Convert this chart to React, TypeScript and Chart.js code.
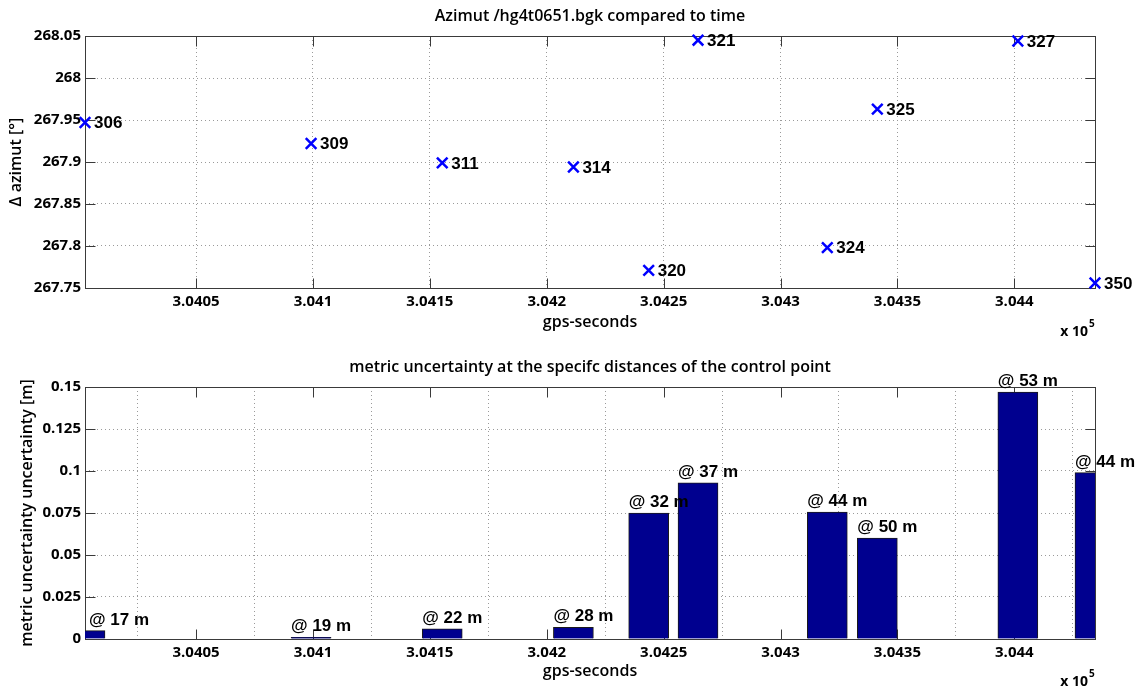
import React, { useEffect, useRef } from 'react';
import { Chart, registerables } from 'chart.js';

Chart.register(...registerables);

// Control point identifiers and their observation epochs (GPS seconds)
const pointIds = ['306', '309', '311', '314', '320', '321', '324', '325', '327', '350'];
const gpsSeconds = [304002.5, 304099.2, 304155.3, 304211.4, 304243.6, 304264.7, 304320.0, 304341.4, 304401.5, 304434.5];

// Azimuth per control point [deg]
const azimuth = [267.947, 267.922, 267.899, 267.894, 267.771, 268.045, 267.798, 267.963, 268.044, 267.756];

// Metric uncertainty [m] and distance to the control point [m]
const uncertainty = [0.005, 0.001, 0.006, 0.007, 0.075, 0.093, 0.0756, 0.06, 0.147, 0.099];
const distances = [17, 19, 22, 28, 32, 37, 44, 50, 53, 44];

// Axis ticks
const xTicks = [304050, 304100, 304150, 304200, 304250, 304300, 304350, 304400];
const xTickLabels = ['3.0405', '3.041', '3.0415', '3.042', '3.0425', '3.043', '3.0435', '3.044'];
const azTicks = [267.75, 267.8, 267.85, 267.9, 267.95, 268, 268.05];
const azTickLabels = ['267.75', '267.8', '267.85', '267.9', '267.95', '268', '268.05'];
const uncTicks = [0, 0.025, 0.05, 0.075, 0.1, 0.125, 0.15];
const uncTickLabels = ['0', '0.025', '0.05', '0.075', '0.1', '0.125', '0.15'];

const W = 1141;
const H = 344;
const TICK_FONT = { family: '"Open Sans", sans-serif', size: 15, weight: 'bold' as const };
const LABEL_FONT = '600 16px "Open Sans", sans-serif';
const ANNOT_FONT = 'bold 17px "Liberation Sans", Arial, sans-serif';
const FRAME = '#3a3a3a';

type DecorCfg = {
  title: string;
  titleY: number;
  yTitle: string;
  yTitleX: number;
  xTitleY: number;
  expY: number;
};

function makeDecor(cfg: DecorCfg) {
  return {
    id: 'decor',
    beforeDatasetsDraw(chart: any) {
      const { ctx, chartArea: a, scales } = chart;
      const L = Math.round(a.left) + 0.5;
      const R = Math.round(a.right) + 0.5;
      const T = Math.round(a.top) + 0.5;
      const B = Math.round(a.bottom) + 0.5;
      ctx.save();
      ctx.strokeStyle = FRAME;
      ctx.lineWidth = 1;
      ctx.beginPath();
      // inward tick marks on all four sides
      scales.x.ticks.forEach((t: any) => {
        const px = Math.round(scales.x.getPixelForValue(t.value)) + 0.5;
        ctx.moveTo(px, B); ctx.lineTo(px, B - 10);
        ctx.moveTo(px, T); ctx.lineTo(px, T + 10);
      });
      scales.y.ticks.forEach((t: any) => {
        const py = Math.round(scales.y.getPixelForValue(t.value)) + 0.5;
        ctx.moveTo(L, py); ctx.lineTo(L + 10, py);
        ctx.moveTo(R, py); ctx.lineTo(R - 10, py);
      });
      ctx.stroke();
      ctx.strokeRect(L, T, R - L, B - T);
      ctx.restore();
    },
    afterDraw(chart: any) {
      const { ctx, chartArea: a } = chart;
      const cx = (a.left + a.right) / 2;
      ctx.save();
      ctx.fillStyle = '#000';
      ctx.font = LABEL_FONT;
      ctx.textAlign = 'center';
      ctx.textBaseline = 'alphabetic';
      ctx.fillText(cfg.title, cx, cfg.titleY);
      ctx.fillText('gps-seconds', cx, cfg.xTitleY);
      // y-axis title
      ctx.save();
      ctx.translate(cfg.yTitleX, (a.top + a.bottom) / 2);
      ctx.rotate(-Math.PI / 2);
      ctx.textBaseline = 'middle';
      ctx.fillText(cfg.yTitle, 0, 0);
      ctx.restore();
      // x-axis exponent
      ctx.textAlign = 'right';
      ctx.font = 'bold 14px "Open Sans", sans-serif';
      ctx.fillText('x 10', a.right - 7, cfg.expY);
      ctx.textAlign = 'left';
      ctx.font = 'bold 10px "Open Sans", sans-serif';
      ctx.fillText('5', a.right - 6, cfg.expY - 9);
      ctx.restore();
    },
  };
}

const pointLabels = {
  id: 'pointLabels',
  afterDatasetsDraw(chart: any) {
    const { ctx } = chart;
    const meta = chart.getDatasetMeta(0);
    ctx.save();
    ctx.fillStyle = '#000';
    ctx.font = ANNOT_FONT;
    ctx.textAlign = 'left';
    ctx.textBaseline = 'middle';
    meta.data.forEach((el: any, i: number) => {
      ctx.fillText(pointIds[i], el.x + 9, el.y + 1);
    });
    ctx.restore();
  },
};

const barLabels = {
  id: 'barLabels',
  afterDatasetsDraw(chart: any) {
    const { ctx, chartArea: a } = chart;
    const meta = chart.getDatasetMeta(0);
    ctx.save();
    ctx.fillStyle = '#000';
    ctx.font = ANNOT_FONT;
    ctx.textAlign = 'left';
    ctx.textBaseline = 'alphabetic';
    meta.data.forEach((el: any, i: number) => {
      const left = Math.max(el.x - el.width / 2, a.left + 4);
      ctx.fillText('@ ' + distances[i] + ' m', left, el.y - 6);
    });
    ctx.restore();
  },
};

function xScale(height: number) {
  return {
    type: 'linear' as const,
    min: gpsSeconds[0],
    max: gpsSeconds[gpsSeconds.length - 1],
    offset: false,
    afterBuildTicks: (s: any) => { s.ticks = xTicks.map((v) => ({ value: v })); },
    afterFit: (s: any) => { s.height = height; },
    ticks: {
      autoSkip: false,
      maxRotation: 0,
      padding: 5,
      color: '#000',
      font: TICK_FONT,
      callback: (_v: any, i: number) => xTickLabels[i],
    },
    grid: { color: '#9a9a9a', lineWidth: 1, drawTicks: false },
    border: { display: false, dash: [1, 3] },
  };
}

function yScale(min: number, max: number, ticks: number[], labels: string[]) {
  return {
    type: 'linear' as const,
    min,
    max,
    afterBuildTicks: (s: any) => { s.ticks = ticks.map((v) => ({ value: v })); },
    afterFit: (s: any) => { s.width = 85; },
    ticks: {
      autoSkip: false,
      padding: 4,
      color: '#000',
      font: TICK_FONT,
      callback: (_v: any, i: number) => labels[i],
    },
    grid: { color: '#9a9a9a', lineWidth: 1, drawTicks: false },
    border: { display: false, dash: [1, 3] },
  };
}

function AzimuthChart() {
  const ref = useRef<HTMLCanvasElement>(null);
  useEffect(() => {
    const chart = new Chart(ref.current!, {
      type: 'scatter',
      data: {
        datasets: [
          {
            data: gpsSeconds.map((x, i) => ({ x, y: azimuth[i] })),
            pointStyle: 'crossRot',
            pointRadius: 7.5,
            pointBorderWidth: 2.5,
            borderColor: '#0000ff',
            backgroundColor: '#0000ff',
            clip: false as any,
          },
        ],
      },
      options: {
        responsive: false,
        animation: false,
        layout: { padding: { top: 36, right: 46, left: 0, bottom: 0 } },
        plugins: { legend: { display: false }, tooltip: { enabled: false } },
        scales: {
          x: xScale(H - 288),
          y: yScale(267.75, 268.05, azTicks, azTickLabels),
        },
      },
      plugins: [
        makeDecor({
          title: 'Azimut /hg4t0651.bgk compared to time',
          titleY: 21,
          yTitle: '\u0394 azimut [\u00b0]',
          yTitleX: 16,
          xTitleY: 327,
          expY: 336,
        }),
        pointLabels,
      ],
    });
    return () => chart.destroy();
  }, []);
  return <canvas ref={ref} width={W} height={H} style={{ display: 'block' }} />;
}

function UncertaintyChart() {
  const ref = useRef<HTMLCanvasElement>(null);
  useEffect(() => {
    const chart = new Chart(ref.current!, {
      type: 'bar',
      data: {
        datasets: [
          {
            data: gpsSeconds.map((x, i) => ({ x, y: uncertainty[i] })) as any,
            backgroundColor: '#00008f',
            borderColor: '#1a1a1a',
            borderWidth: 1,
            barThickness: 40,
          },
        ],
      },
      options: {
        responsive: false,
        animation: false,
        layout: { padding: { top: 43, right: 46, left: 0, bottom: 0 } },
        plugins: { legend: { display: false }, tooltip: { enabled: false } },
        scales: {
          x: xScale(H - 295),
          y: yScale(0, 0.15, uncTicks, uncTickLabels),
        },
      },
      plugins: [
        makeDecor({
          title: 'metric uncertainty at the specifc distances of the control point',
          titleY: 28,
          yTitle: 'metric uncertainty uncertainty [m]',
          yTitleX: 27,
          xTitleY: 332,
          expY: 342,
        }),
        barLabels,
      ],
    });
    return () => chart.destroy();
  }, []);
  return <canvas ref={ref} width={W} height={H} style={{ display: 'block' }} />;
}

export default function App() {
  return (
    <div style={{ position: 'absolute', left: 0, top: 0, width: W, height: 2 * H, background: '#fff' }}>
      <AzimuthChart />
      <UncertaintyChart />
    </div>
  );
}
